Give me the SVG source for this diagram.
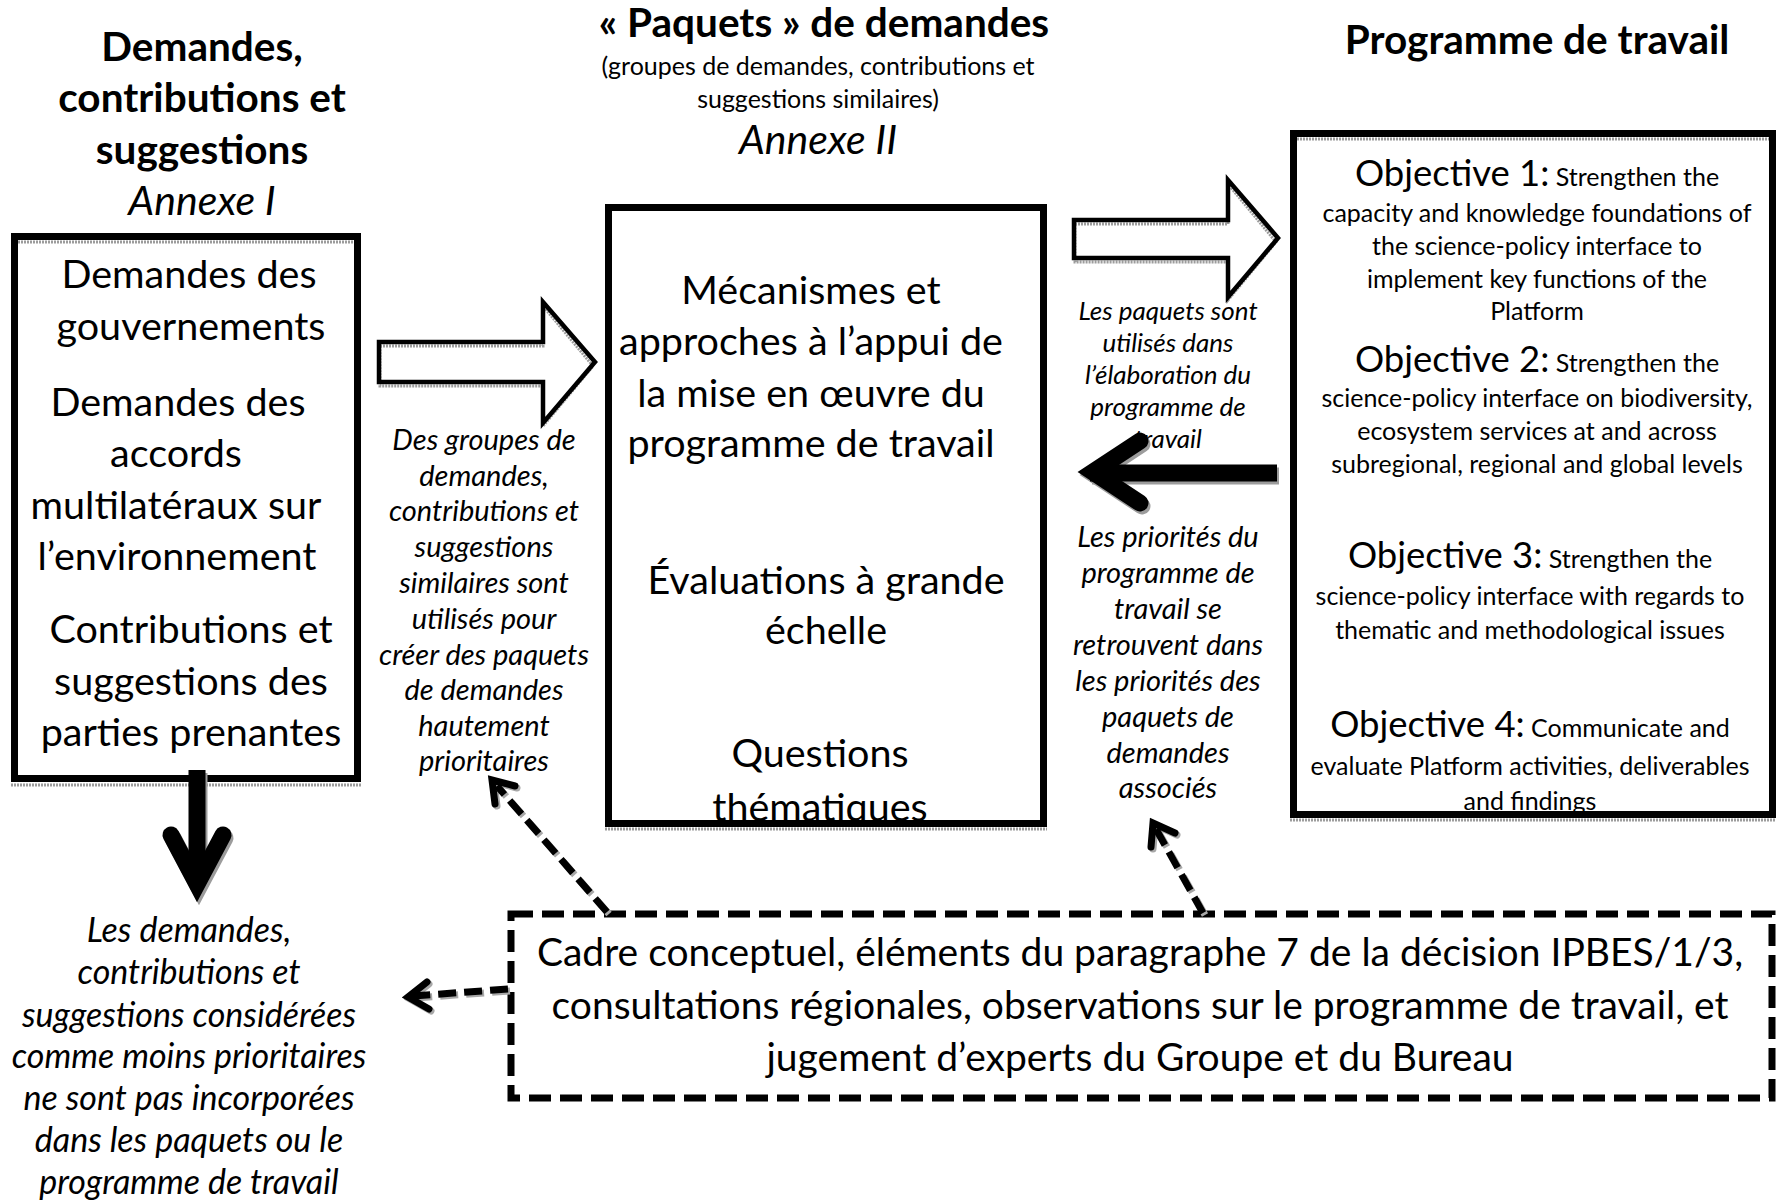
<svg xmlns="http://www.w3.org/2000/svg" width="1781" height="1204" viewBox="0 0 1781 1204">
<style>
text{font-family:Lato,"Liberation Sans",sans-serif;fill:#000;text-anchor:middle}
.h{font-weight:bold;font-size:40.5px}
.n{font-size:39.5px}
.c{font-size:39px}
.ai{font-size:41px;font-style:italic}
.s{font-size:25px}
.o{font-size:36.5px}
.i{font-style:italic}
.box{fill:#fff;stroke:#000;stroke-width:7}
.sh{fill:none;stroke:#9c9c9c;stroke-width:3;stroke-dasharray:2 1}
.hol{fill:none;stroke:#000;stroke-width:4.5;stroke-linejoin:miter}
.blk{fill:none;stroke:#000;stroke-width:17}
.blks{fill:none;stroke:#9c9c9c;stroke-width:17}
.dl{fill:none;stroke:#000;stroke-width:7;stroke-dasharray:18 8}
.dls{fill:none;stroke:#a8a8a8;stroke-width:7;stroke-dasharray:18 8}
.ch{fill:none;stroke:#000;stroke-width:7;stroke-linecap:round;stroke-linejoin:miter}
.chs{fill:none;stroke:#a8a8a8;stroke-width:7;stroke-linecap:round}
</style>
<defs>
<clipPath id="clipMid"><rect x="612" y="211" width="428" height="609"/></clipPath>
<clipPath id="clipRight"><rect x="1297" y="137" width="472" height="674"/></clipPath>
</defs>
<rect width="1781" height="1204" fill="#fff"/>

<g id="header-left">
<text class="h" x="202" y="61">Demandes,</text>
<text class="h" x="202" y="112">contributions et</text>
<text class="h" x="202" y="164">suggestions</text>
<text class="ai" x="202" y="215">Annexe I</text>
</g>
<g id="header-middle">
<text class="h" x="824" y="37">« Paquets » de demandes</text>
<text class="s" x="818" y="75">(groupes de demandes, contributions et</text>
<text class="s" x="818" y="108">suggestions similaires)</text>
<text class="ai" x="818" y="154">Annexe II</text>
</g>
<g id="header-right">
<text class="h" x="1537" y="54">Programme de travail</text>
</g>

<g id="node-demandes">
<rect class="box" x="14.5" y="236.5" width="343" height="542"/>
<line class="sh" x1="18" y1="242" x2="354" y2="242"/>
<line class="sh" x1="11" y1="785" x2="361" y2="785"/>
<text class="n" x="189" y="288">Demandes des</text>
<text class="n" x="191" y="340">gouvernements</text>
<text class="n" x="178" y="416">Demandes des</text>
<text class="n" x="176" y="467">accords</text>
<text class="n" x="176" y="519">multilatéraux sur</text>
<text class="n" x="177" y="570">l’environnement</text>
<text class="n" x="191" y="643">Contributions et</text>
<text class="n" x="191" y="695">suggestions des</text>
<text class="n" x="191" y="746">parties prenantes</text>
</g>

<g id="node-paquets">
<rect class="box" x="608.5" y="207.5" width="435" height="616"/>
<line class="sh" x1="605" y1="829" x2="1047" y2="829"/>
<g clip-path="url(#clipMid)">
<text class="n" x="811" y="304">Mécanismes et</text>
<text class="n" x="811" y="355">approches à l’appui de</text>
<text class="n" x="811" y="407">la mise en œuvre du</text>
<text class="n" x="811" y="457">programme de travail</text>
<text class="n" x="826" y="594">Évaluations à grande</text>
<text class="n" x="826" y="644">échelle</text>
<text class="n" x="820" y="767">Questions</text>
<text class="n" x="820" y="821">thématiques</text>
</g>
</g>

<g id="node-programme">
<rect class="box" x="1293.5" y="133.5" width="479" height="681"/>
<line class="sh" x1="1297" y1="139" x2="1769" y2="139"/>
<line class="sh" x1="1290" y1="820" x2="1776" y2="820"/>
<g clip-path="url(#clipRight)">
<text x="1537" y="186"><tspan class="o">Objective 1:</tspan><tspan class="s"> Strengthen the</tspan></text>
<text class="s" x="1537" y="222">capacity and knowledge foundations of</text>
<text class="s" x="1537" y="255">the science-policy interface to</text>
<text class="s" x="1537" y="288">implement key functions of the</text>
<text class="s" x="1537" y="320">Platform</text>
<text x="1537" y="372"><tspan class="o">Objective 2:</tspan><tspan class="s"> Strengthen the</tspan></text>
<text class="s" x="1537" y="407">science-policy interface on biodiversity,</text>
<text class="s" x="1537" y="440">ecosystem services at and across</text>
<text class="s" x="1537" y="473">subregional, regional and global levels</text>
<text x="1530" y="568"><tspan class="o">Objective 3:</tspan><tspan class="s"> Strengthen the</tspan></text>
<text class="s" x="1530" y="605">science-policy interface with regards to</text>
<text class="s" x="1530" y="639">thematic and methodological issues</text>
<text x="1530" y="737"><tspan class="o">Objective 4:</tspan><tspan class="s"> Communicate and</tspan></text>
<text class="s" x="1530" y="775">evaluate Platform activities, deliverables</text>
<text class="s" x="1530" y="810">and findings</text>
</g>
</g>

<g id="node-cadre">
<rect x="511" y="914" width="1261" height="184" fill="none" stroke="#000" stroke-width="7" stroke-dasharray="22 9"/>
<text class="c" x="1140" y="966">Cadre conceptuel, éléments du paragraphe 7 de la décision IPBES/1/3,</text>
<text class="c" x="1140" y="1019">consultations régionales, observations sur le programme de travail, et</text>
<text class="c" x="1140" y="1071">jugement d’experts du Groupe et du Bureau</text>
</g>

<g id="label-groupes" class="i" font-size="29">
<text x="484" y="450">Des groupes de</text>
<text x="484" y="486">demandes,</text>
<text x="484" y="521">contributions et</text>
<text x="484" y="557">suggestions</text>
<text x="484" y="593">similaires sont</text>
<text x="484" y="629">utilisés pour</text>
<text x="484" y="665">créer des paquets</text>
<text x="484" y="700">de demandes</text>
<text x="484" y="736">hautement</text>
<text x="484" y="771">prioritaires</text>
</g>
<g id="label-paquets-utilises" class="i" font-size="26">
<text x="1168" y="320">Les paquets sont</text>
<text x="1168" y="352">utilisés dans</text>
<text x="1168" y="384">l’élaboration du</text>
<text x="1168" y="416">programme de</text>
<text x="1168" y="448">travail</text>
</g>
<g id="label-priorites" class="i" font-size="29">
<text x="1168" y="547">Les priorités du</text>
<text x="1168" y="583">programme de</text>
<text x="1168" y="619">travail se</text>
<text x="1168" y="655">retrouvent dans</text>
<text x="1168" y="691">les priorités des</text>
<text x="1168" y="727">paquets de</text>
<text x="1168" y="763">demandes</text>
<text x="1168" y="798">associés</text>
</g>
<g id="label-moins-prioritaires" class="i" font-size="34">
<text x="189" y="942">Les demandes,</text>
<text x="189" y="984">contributions et</text>
<text x="189" y="1027">suggestions considérées</text>
<text x="189" y="1068">comme moins prioritaires</text>
<text x="189" y="1110">ne sont pas incorporées</text>
<text x="189" y="1152">dans les paquets ou le</text>
<text x="189" y="1194">programme de travail</text>
</g>

<g id="connectors">
<polygon points="379,342 543,342 543,302 595,362 543,423 543,382 379,382" fill="#fff"/>
<polygon class="sh" points="380,346 543,346 543,306 593,366 543,426 543,386 380,386"/>
<polygon class="hol" points="379,342 543,342 543,302 595,362 543,423 543,382 379,382"/>
<polygon points="1074,220 1228,220 1228,180 1278,238 1228,297 1228,258 1074,258" fill="#fff"/>
<polygon class="sh" points="1075,224 1228,224 1228,184 1276,242 1228,300 1228,262 1075,262"/>
<polygon class="hol" points="1074,220 1228,220 1228,180 1278,238 1228,297 1228,258 1074,258"/>
<g transform="translate(2,3)">
<line class="blks" x1="1090" y1="473" x2="1277" y2="473"/>
<polyline class="blks" points="1140,441 1093,472 1140,503" stroke-linecap="round"/>
</g>
<line class="blk" x1="1090" y1="473" x2="1277" y2="473"/>
<polyline class="blk" points="1140,441 1093,472 1140,503" stroke-linecap="round"/>
<g transform="translate(2,3)">
<line class="blks" x1="197" y1="770" x2="197" y2="880"/>
<polyline class="blks" points="171,835 197,884 223,835" stroke-linecap="round" stroke-width="16"/>
</g>
<line class="blk" x1="197" y1="770" x2="197" y2="880" stroke-width="16"/>
<polyline class="blk" points="171,835 197,884 223,835" stroke-linecap="round" stroke-width="16"/>
<g transform="translate(2,2)">
<line class="dls" x1="607" y1="912" x2="497" y2="786"/>
<polyline class="chs" points="515,786 492,780 495,804"/>
<line class="dls" x1="1203" y1="913" x2="1156" y2="829"/>
<polyline class="chs" points="1175,833 1153,823 1151,847"/>
<line class="dls" x1="508" y1="989" x2="413" y2="996"/>
<polyline class="chs" points="427,982 408,997 429,1009"/>
</g>
<line class="dl" x1="607" y1="912" x2="497" y2="786"/>
<polyline class="ch" points="515,786 492,780 495,804"/>
<line class="dl" x1="1203" y1="913" x2="1156" y2="829"/>
<polyline class="ch" points="1175,833 1153,823 1151,847"/>
<line class="dl" x1="508" y1="989" x2="413" y2="996"/>
<polyline class="ch" points="427,982 408,997 429,1009"/>
</g>
</svg>
